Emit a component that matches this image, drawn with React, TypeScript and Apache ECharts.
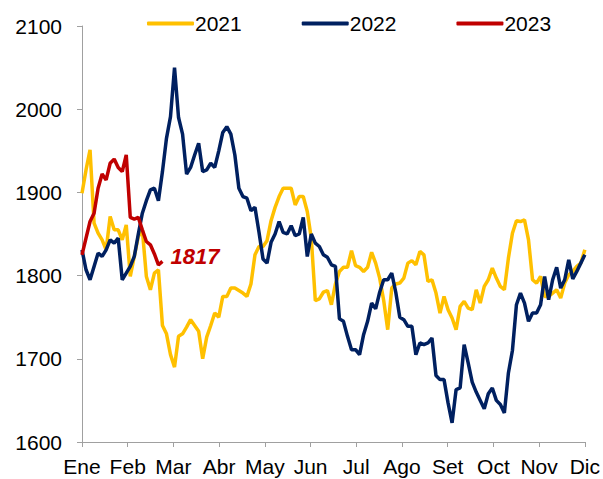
import React, { useEffect, useRef } from "react";
import * as echarts from "echarts";

const MONTHS = ["Ene", "Feb", "Mar", "Abr", "May", "Jun", "Jul", "Ago", "Set", "Oct", "Nov", "Dic"];

const Y2021 = [
  1899, 1927, 1951, 1863, 1851, 1843, 1831, 1871, 1855, 1855,
  1843, 1861, 1799, 1823, 1847, 1855, 1799, 1783, 1803, 1807,
  1740, 1730, 1705, 1690, 1727, 1730, 1738, 1747, 1740, 1733,
  1700, 1726, 1740, 1755, 1750, 1775, 1775, 1785, 1785, 1782,
  1779, 1775, 1790, 1825, 1835, 1835, 1842, 1866, 1882, 1895,
  1905, 1905, 1905, 1885, 1895, 1895, 1877, 1845, 1770, 1772,
  1780, 1782, 1765, 1790, 1805, 1810, 1810, 1830, 1812, 1810,
  1805, 1810, 1828, 1815, 1797, 1770, 1735, 1785, 1790, 1791,
  1797, 1815, 1818, 1813, 1829, 1825, 1793, 1795, 1779, 1755,
  1775, 1759, 1749, 1735, 1763, 1769, 1761, 1759, 1783, 1767,
  1787, 1795, 1809, 1797, 1787, 1783, 1821, 1851, 1866, 1865,
  1867, 1843, 1795, 1791, 1799, 1775, 1775, 1779, 1783, 1773,
  1791, 1801, 1805, 1811, 1815, 1831,
];

const Y2022 = [
  1831, 1807, 1795, 1811, 1827, 1823, 1831, 1843, 1839, 1845,
  1795, 1803, 1811, 1823, 1850, 1875, 1890, 1903, 1905, 1890,
  1925, 1965, 1991, 2050, 1990, 1970, 1922, 1930, 1945, 1959,
  1925, 1927, 1935, 1930, 1950, 1972, 1979, 1970, 1945, 1905,
  1895, 1893, 1878, 1882, 1852, 1820, 1815, 1840, 1850, 1865,
  1852, 1850, 1860, 1848, 1850, 1870, 1823, 1850, 1839, 1835,
  1825, 1822, 1813, 1811, 1748, 1745, 1727, 1711, 1711, 1705,
  1729, 1745, 1767, 1760, 1780, 1795, 1795, 1803, 1780, 1750,
  1747, 1739, 1739, 1705, 1719, 1717, 1719, 1725, 1680, 1675,
  1675, 1647, 1623, 1663, 1665, 1717, 1695, 1672, 1660, 1650,
  1640, 1658, 1665, 1650, 1645, 1635, 1683, 1710, 1765, 1779,
  1767, 1745, 1755, 1755, 1765, 1799, 1771, 1795, 1810, 1785,
  1795, 1819, 1796, 1805, 1815, 1825,
];

const Y2023 = [
  1825, 1845, 1865, 1875, 1905, 1922, 1915, 1935, 1940, 1930,
  1925, 1945, 1870, 1868, 1870, 1855, 1841, 1837, 1826, 1813,
  1817,
];

const STEP = 11 / 125;
const toPairs = (arr: number[]) => arr.map((v, i) => [i * STEP, v]);

const FONT = "'Liberation Sans', Arial, sans-serif";
const AXIS_COLOR = "#A0A0A0";

export default function App() {
  const ref = useRef<HTMLDivElement>(null);

  useEffect(() => {
    if (!ref.current) return;
    const chart = echarts.init(ref.current, undefined, { renderer: "svg" });
    chart.setOption({
      animation: false,
      backgroundColor: "#ffffff",
      textStyle: { fontFamily: FONT },
      grid: { left: 82, right: 18, top: 26, bottom: 37, containLabel: false },
      legend: {
        data: ["2021", "2022", "2023"],
        left: 142,
        top: 8,
        icon: "roundRect",
        itemWidth: 47,
        itemHeight: 4,
        itemGap: 60,
        textStyle: { fontSize: 21, color: "#000", fontFamily: FONT, padding: [0, 0, 0, -4] },
      },
      xAxis: {
        type: "value",
        min: 0,
        max: 11,
        interval: 1,
        splitLine: { show: false },
        axisLine: { show: true, lineStyle: { color: AXIS_COLOR, width: 1 } },
        axisTick: { show: true, length: 5, lineStyle: { color: AXIS_COLOR } },
        axisLabel: {
          fontSize: 21,
          color: "#000",
          fontFamily: FONT,
          margin: 14,
          formatter: (v: number) => MONTHS[Math.round(v)] ?? "",
        },
      },
      yAxis: {
        type: "value",
        min: 1600,
        max: 2100,
        interval: 100,
        splitLine: { show: false },
        axisLine: { show: true, lineStyle: { color: AXIS_COLOR, width: 1 } },
        axisTick: { show: true, length: 5, lineStyle: { color: AXIS_COLOR } },
        axisLabel: {
          fontSize: 21,
          color: "#000",
          fontFamily: FONT,
          margin: 20,
          formatter: (v: number) => String(v),
        },
      },
      series: [
        {
          name: "2021",
          type: "line",
          data: toPairs(Y2021),
          symbol: "none",
          lineStyle: { color: "#FFC000", width: 3.5 },
          itemStyle: { color: "#FFC000" },
        },
        {
          name: "2022",
          type: "line",
          data: toPairs(Y2022),
          symbol: "none",
          lineStyle: { color: "#002060", width: 3.5 },
          itemStyle: { color: "#002060" },
        },
        {
          name: "2023",
          type: "line",
          data: toPairs(Y2023),
          symbol: "none",
          lineStyle: { color: "#C00000", width: 3.5 },
          itemStyle: { color: "#C00000" },
          endLabel: {
            show: true,
            formatter: () => String(Y2023[Y2023.length - 1]),
            color: "#C00000",
            fontSize: 22,
            fontWeight: "bold",
            fontStyle: "italic",
            fontFamily: FONT,
            distance: 8,
            offset: [0, -5],
          },
        },
      ],
    });
    return () => chart.dispose();
  }, []);

  return (
    <div
      ref={ref}
      style={{ position: "fixed", left: 0, top: 0, width: 603, height: 479 }}
    />
  );
}
